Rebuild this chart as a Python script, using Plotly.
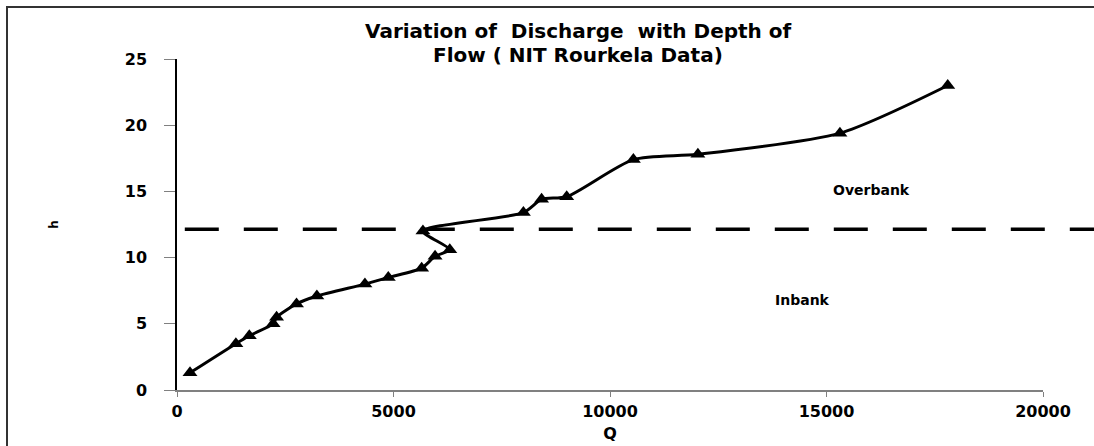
import plotly.graph_objects as go

# Data
Q = [300, 1360, 1670, 2220, 2300, 2760, 3230, 4340, 4880, 5650, 5960, 6300,
     5680, 8000, 8420, 9000, 10540, 12030, 15310, 17800]
H = [1.3, 3.5, 4.1, 5.0, 5.5, 6.5, 7.1, 8.0, 8.5, 9.2, 10.1, 10.6,
     12.0, 13.4, 14.4, 14.6, 17.4, 17.8, 19.4, 23.0]
BANKFULL = 12.15
x_ticks = [0, 5000, 10000, 15000, 20000]
x_labels = ["0", "5000", "10000", "15000", "20000"]
y_ticks = [0, 5, 10, 15, 20, 25]
labels = [("Overbank", 16050, 15.1), ("Inbank", 14450, 6.8)]
title_lines = ["Variation of  Discharge  with Depth of", "Flow ( NIT Rourkela Data)"]

FONT = "DejaVu Sans"
W, Hgt = 1094, 446
ML, MR, MT, MB = 177, 51, 59, 56

fig = go.Figure()
fig.add_trace(go.Scatter(
    x=Q, y=H, mode="lines+markers",
    line=dict(color="black", width=3, shape="spline", smoothing=0.7),
    marker=dict(symbol="triangle-up", size=13, color="black"),
    showlegend=False, cliponaxis=False,
))

# bankfull dashed line
fig.add_shape(type="line", xref="paper", yref="y", x0=0.009, x1=1.1,
              y0=BANKFULL, y1=BANKFULL,
              line=dict(color="black", width=3.5, dash="34px,25px"))

# outer chart border (cut off at right and bottom like reference)
pw = W - ML - MR
ph = Hgt - MT - MB
fig.add_shape(type="rect", xref="paper", yref="paper",
              x0=(7 - ML) / pw, x1=1.5, y0=-0.6, y1=(Hgt - MB - 7) / ph,
              line=dict(color="#333333", width=2), fillcolor="rgba(0,0,0,0)")

for txt, qx, hy in labels:
    fig.add_annotation(x=qx, y=hy, text=txt, showarrow=False,
                       font=dict(family=FONT, size=14, color="black", weight="bold"))

for line, ypx in zip(title_lines, [31, 55]):
    fig.add_annotation(xref="paper", yref="paper",
                       x=(578 - ML) / pw, y=(Hgt - MB - ypx) / ph,
                       xanchor="center", yanchor="middle", showarrow=False,
                       text=line,
                       font=dict(family=FONT, size=20, color="black", weight="bold"))

fig.update_layout(
    width=W, height=Hgt,
    margin=dict(l=ML, r=MR, t=MT, b=MB),
    paper_bgcolor="white", plot_bgcolor="white",
    xaxis=dict(range=[0, 20000], tickvals=x_ticks, ticktext=x_labels,
               automargin=False,
               showgrid=False, zeroline=False,
               showline=True, linecolor="#808080", linewidth=1.5,
               ticks="outside", ticklen=5, tickcolor="#808080",
               ticklabelstandoff=1,
               tickfont=dict(family=FONT, size=16, color="black", weight="bold"),
               title=dict(text="Q", standoff=8,
                          font=dict(family=FONT, size=16, color="black", weight="bold"))),
    yaxis=dict(range=[0, 25], tickvals=y_ticks, showgrid=False, zeroline=False,
               automargin=False,
               showline=True, linecolor="black", linewidth=1.5,
               ticks="outside", ticklen=11, tickcolor="#808080",
               ticklabelstandoff=14,
               tickfont=dict(family=FONT, size=16, color="black", weight="bold"),
               title=dict(text="h", standoff=64,
                          font=dict(family=FONT, size=12, color="black", weight="bold"))),
)

fig.write_html("out.html",
               config={"displayModeBar": False},
               post_script="document.body.style.margin='0';"
                           "document.body.style.overflow='hidden';")
